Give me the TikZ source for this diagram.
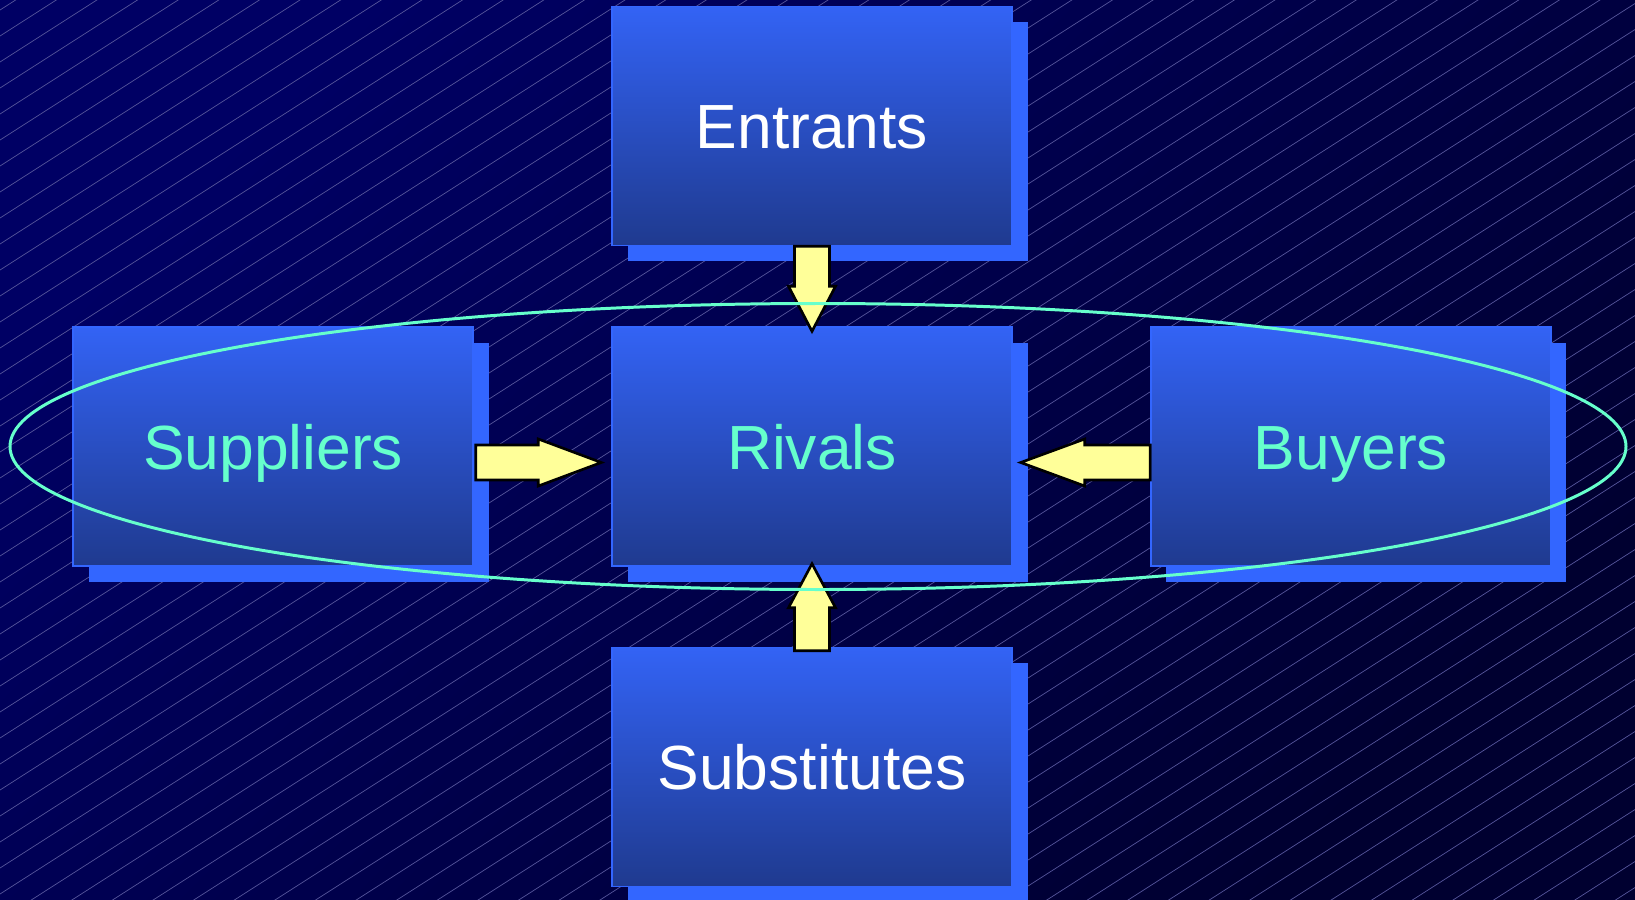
\documentclass[tikz,border=0pt]{standalone}
\usepackage{fontspec}
\setmainfont{Liberation Sans}
\usetikzlibrary{positioning, calc, shadows}
\definecolor{bgnavy}{RGB}{0,0,100}
\definecolor{bgdark}{RGB}{0,0,48}
\definecolor{bgline}{RGB}{85,85,155}
\definecolor{boxtop}{RGB}{51,99,245}
\definecolor{boxbottom}{RGB}{31,58,143}
\definecolor{boxedge}{RGB}{51,102,255}
\definecolor{arrowyellow}{RGB}{255,255,153}
\definecolor{ringgreen}{RGB}{102,255,204}

\begin{document}
\begin{tikzpicture}[
  box/.style={rectangle, draw=boxedge, line width=0.8pt, top color=boxtop, bottom color=boxbottom,
    minimum width=8cm, minimum height=4.78cm, text height=0.9cm, text depth=0pt,
    text=white, font=\fontsize{35.5}{40}\selectfont,
    drop shadow={shadow xshift=0.31cm, shadow yshift=-0.31cm, fill=boxedge, opacity=1}},
  hatch/.style={draw=bgline, line width=0.4pt},
  ring/.style={draw=ringgreen, line width=1.7pt},
  blockarrow/.style={draw=black, line width=1.5pt, fill=arrowyellow,
    to path={($(\tikztostart)!0.35cm!90:(\tikztotarget)$)
      -- ($(\tikztotarget)!#1!(\tikztostart)!0.35cm!90:(\tikztotarget)$)
      -- ($(\tikztotarget)!#1!(\tikztostart)!0.47cm!90:(\tikztotarget)$)
      -- (\tikztotarget)
      -- ($(\tikztotarget)!#1!(\tikztostart)!0.47cm!-90:(\tikztotarget)$)
      -- ($(\tikztotarget)!#1!(\tikztostart)!0.35cm!-90:(\tikztotarget)$)
      -- ($(\tikztostart)!0.35cm!-90:(\tikztotarget)$) -- cycle}},
  node distance=1.6cm and 2.75cm
]
% background
\useasboundingbox (0,0) rectangle (32.7,-17.98);
\shade[top color=bgnavy, bottom color=bgdark, shading angle=45] (0,0) rectangle (32.7,-17.98);
\begin{scope}
  \clip (0,0) rectangle (32.7,-17.98);
  \foreach \k in {0,...,75}
    \draw[hatch] (0,{-0.2-0.52*\k}) -- ++(32.7,20.93);
\end{scope}

% the five forces
\node[box, text=ringgreen] (riv) at (16.24,-8.93) {Rivals};
\node[box, above=of riv] (ent) {Entrants};
\node[box, below=of riv] (sub) {Substitutes};
\node[box, text=ringgreen, left=of riv] (sup) {Suppliers};
\node[box, text=ringgreen, right=of riv] (buy) {Buyers};

\draw[blockarrow=0.9cm] (ent.south) to ([yshift=-0.1cm]riv.north);
\draw[blockarrow=0.88cm] ([yshift=-0.08cm]sub.north) to ([yshift=0.06cm]riv.south);
\draw[blockarrow=1.26cm] ([xshift=0.04cm, yshift=-0.32cm]sup.east) to ([xshift=-0.2cm, yshift=-0.32cm]riv.west);
\draw[blockarrow=1.28cm] ([yshift=-0.32cm]buy.west) to ([xshift=0.16cm, yshift=-0.32cm]riv.east);

\draw[ring] ([xshift=0.12cm]riv.center) ellipse [x radius=16.16cm, y radius=2.86cm];
\end{tikzpicture}
\end{document}
